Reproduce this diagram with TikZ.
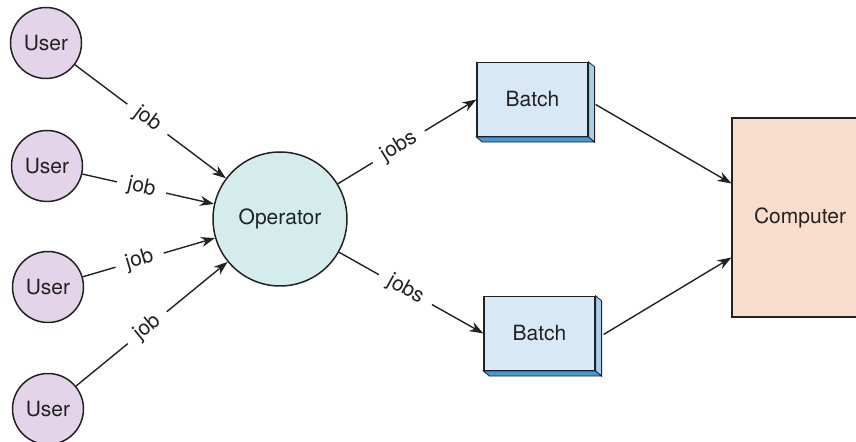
\documentclass[tikz,border=0pt]{standalone}
\usepackage{fontspec}
\setmainfont{TeX Gyre Heros}
\usetikzlibrary{arrows.meta,calc}
\definecolor{userfill}{HTML}{E3D4E9}
\definecolor{opfill}{HTML}{D5ECED}
\definecolor{batchfill}{HTML}{D9E8F6}
\definecolor{batchside}{HTML}{A6CFEE}
\definecolor{batchbottom}{HTML}{3F9CD8}
\definecolor{compfill}{HTML}{F9DDCC}
\definecolor{ink}{HTML}{222222}
\begin{document}
\begin{tikzpicture}[x=0.5pt,y=-0.5pt,
  every node/.style={font=\fontsize{10.5}{12}\selectfont,text=ink},
  user/.style={circle,draw=ink,line width=0.75pt,fill=userfill,minimum size=35.5pt,inner sep=0pt},
  opnode/.style={circle,draw=ink,line width=0.75pt,fill=opfill,minimum size=67pt,inner sep=0pt},
  batchbox/.style={rectangle,draw=ink,line width=0.6pt,fill=batchfill,minimum width=55.5pt,minimum height=37pt,inner sep=0pt},
  compbox/.style={rectangle,draw=ink,line width=0.6pt,fill=compfill,minimum width=68pt,minimum height=99.5pt,inner sep=0pt},
  arr/.style={draw=ink,line width=0.7pt,-{Stealth[length=7pt,width=5pt]}},
  lbl/.style={sloped,fill=white,inner xsep=5.5pt,inner ysep=0.5pt},
  strip/.style={draw=ink,line width=0.4pt}
]
\useasboundingbox (0,0) rectangle (856,442);
\fill[white] (0,0) rectangle (856,442);
\clip (0,0) rectangle (856,442);

% users
\node[user] (u1) at (46,43) {User};
\node[user] (u2) at (47,166) {User};
\node[user] (u3) at (48,287) {User};
\node[user] (u4) at (48,409) {User};

% operator
\node[opnode] (op) at (280,219) {Operator};

% batches
\node[batchbox] (b1) at (532.5,99.5) {Batch};
\node[batchbox] (b2) at (539.5,333.5) {Batch};
\foreach \b in {b1,b2}{
  \filldraw[strip,fill=batchside] (\b.north east) -- ([shift={(6,5)}]\b.north east) -- ([shift={(6,5)}]\b.south east) -- (\b.south east) -- cycle;
  \filldraw[strip,fill=batchbottom] (\b.south west) -- (\b.south east) -- ([shift={(6,5)}]\b.south east) -- ([shift={(6,5)}]\b.south west) -- cycle;
}

% computer
\node[compbox] (comp) at (800,217.5) {Computer};

% user -> operator
\draw[arr] (u1) -- node[lbl,pos=0.48]{job} (op);
\draw[arr] (u2) -- node[lbl,pos=0.45]{job} (op);
\draw[arr] (u3) -- node[lbl,pos=0.43]{job} (op);
\draw[arr] (u4) -- node[lbl,pos=0.47]{job} (op);

% operator -> batches
\draw[arr] (op) -- node[lbl,pos=0.44]{jobs} (b1.west);
\draw[arr] (op) -- node[lbl,pos=0.46]{jobs} (b2.west);

% batches -> computer
\draw[arr] ([shift={(7,5)}]b1.east) -- ([yshift=17pt]comp.west);
\draw[arr] ([shift={(8,1)}]b2.east) -- ([yshift=-20pt]comp.west);
\end{tikzpicture}
\end{document}
